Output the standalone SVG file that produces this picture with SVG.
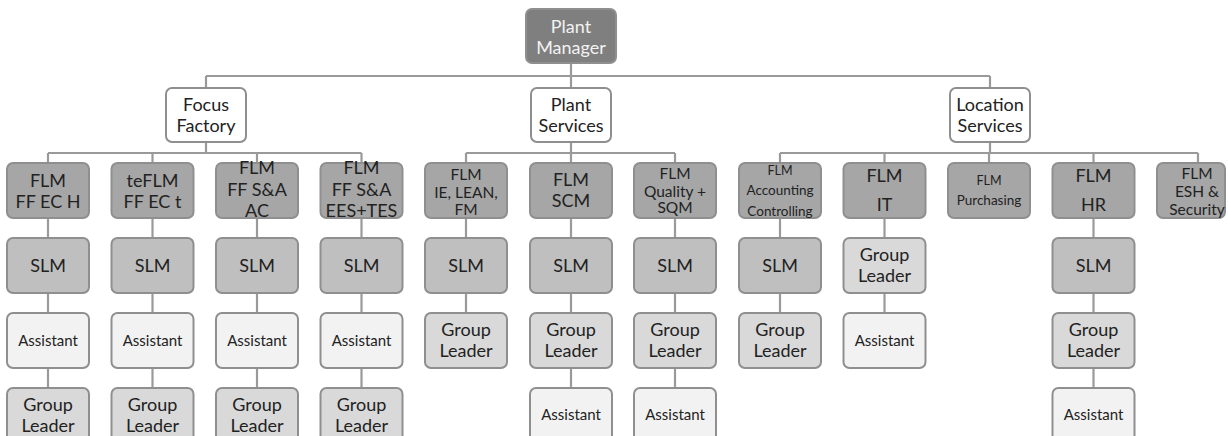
<svg xmlns="http://www.w3.org/2000/svg" width="1228" height="436" viewBox="0 0 1228 436">
<style>
.n rect{stroke:#8f8f8f;stroke-width:2}
.pm{fill:#7f7f7f}
.l1{fill:#ffffff}
.flm{fill:#a6a6a6}
.slm{fill:#bfbfbf}
.gl{fill:#d9d9d9}
.as{fill:#f2f2f2}
text{font-family:Lato,"Liberation Sans",sans-serif;font-size:18px;fill:#222;text-anchor:middle}
.w{fill:#f2f2f2}
.s15{font-size:15.5px}
.s14{font-size:15px}
.s13{font-size:13.5px}
.s12{font-size:12.5px}
#connectors path{stroke:#9a9a9a;stroke-width:2.2;fill:none}
</style>
<g id="connectors">
<path d="M571 63V76M206 76H990M206 76V88M571 76V88M990 76V88"/>
<path d="M206 142V153M571 142V153M990 142V153"/>
<path d="M48 153H361.5M466 153H675M780 153H1198"/>
<path d="M48 153V163M152.5 153V163M257 153V163M361.5 153V163M466 153V163M571 153V163M675 153V163M780 153V163M884.5 153V163M989 153V163M1093.5 153V163M1198 153V163"/>
<path d="M48 218V388M152.5 218V388M257 218V388M361.5 218V388"/>
<path d="M466 218V313M571 218V388M675 218V388M780 218V313M884.5 218V313M1093.5 218V388"/>
</g>
<g class="n" id="plant-manager"><rect class="pm" x="526" y="9" width="90" height="54" rx="6"/><text class="w" x="571" y="33">Plant</text><text class="w" x="571" y="54">Manager</text></g>
<g class="n" id="focus-factory"><rect class="l1" x="166" y="88" width="80" height="54" rx="6"/><text x="206" y="111">Focus</text><text x="206" y="132">Factory</text></g>
<g class="n" id="plant-services"><rect class="l1" x="531" y="88" width="80" height="54" rx="6"/><text x="571" y="111">Plant</text><text x="571" y="132">Services</text></g>
<g class="n" id="location-services"><rect class="l1" x="950" y="88" width="80" height="54" rx="6"/><text x="990" y="111">Location</text><text x="990" y="132">Services</text></g>

<g class="n" id="c0-flm"><rect class="flm" x="7" y="163" width="82" height="55" rx="6"/><text x="48" y="187">FLM</text><text x="48" y="208">FF EC H</text></g>
<g class="n" id="c0-slm"><rect class="slm" x="7" y="238" width="82" height="55" rx="6"/><text x="48" y="272">SLM</text></g>
<g class="n" id="c0-as"><rect class="as" x="7" y="313" width="82" height="55" rx="6"/><text class="s14" x="48" y="346">Assistant</text></g>
<g class="n" id="c0-gl"><rect class="gl" x="7" y="388" width="82" height="55" rx="6"/><text x="48" y="411">Group</text><text x="48" y="432">Leader</text></g>

<g class="n" id="c1-flm"><rect class="flm" x="111.5" y="163" width="82" height="55" rx="6"/><text x="152.5" y="187">teFLM</text><text x="152.5" y="208">FF EC t</text></g>
<g class="n" id="c1-slm"><rect class="slm" x="111.5" y="238" width="82" height="55" rx="6"/><text x="152.5" y="272">SLM</text></g>
<g class="n" id="c1-as"><rect class="as" x="111.5" y="313" width="82" height="55" rx="6"/><text class="s14" x="152.5" y="346">Assistant</text></g>
<g class="n" id="c1-gl"><rect class="gl" x="111.5" y="388" width="82" height="55" rx="6"/><text x="152.5" y="411">Group</text><text x="152.5" y="432">Leader</text></g>

<g class="n" id="c2-flm"><rect class="flm" x="216" y="163" width="82" height="55" rx="6"/><text x="257" y="174">FLM</text><text x="257" y="196">FF S&amp;A</text><text x="257" y="217">AC</text></g>
<g class="n" id="c2-slm"><rect class="slm" x="216" y="238" width="82" height="55" rx="6"/><text x="257" y="272">SLM</text></g>
<g class="n" id="c2-as"><rect class="as" x="216" y="313" width="82" height="55" rx="6"/><text class="s14" x="257" y="346">Assistant</text></g>
<g class="n" id="c2-gl"><rect class="gl" x="216" y="388" width="82" height="55" rx="6"/><text x="257" y="411">Group</text><text x="257" y="432">Leader</text></g>

<g class="n" id="c3-flm"><rect class="flm" x="320.5" y="163" width="82" height="55" rx="6"/><text x="361.5" y="174">FLM</text><text x="361.5" y="196">FF S&amp;A</text><text x="361.5" y="217">EES+TES</text></g>
<g class="n" id="c3-slm"><rect class="slm" x="320.5" y="238" width="82" height="55" rx="6"/><text x="361.5" y="272">SLM</text></g>
<g class="n" id="c3-as"><rect class="as" x="320.5" y="313" width="82" height="55" rx="6"/><text class="s14" x="361.5" y="346">Assistant</text></g>
<g class="n" id="c3-gl"><rect class="gl" x="320.5" y="388" width="82" height="55" rx="6"/><text x="361.5" y="411">Group</text><text x="361.5" y="432">Leader</text></g>

<g class="n" id="c4-flm"><rect class="flm" x="425" y="163" width="82" height="55" rx="6"/><text class="s15" x="466" y="179.5">FLM</text><text class="s15" x="466" y="198">IE, LEAN,</text><text class="s15" x="466" y="214.5">FM</text></g>
<g class="n" id="c4-slm"><rect class="slm" x="425" y="238" width="82" height="55" rx="6"/><text x="466" y="272">SLM</text></g>
<g class="n" id="c4-gl"><rect class="gl" x="425" y="313" width="82" height="55" rx="6"/><text x="466" y="336">Group</text><text x="466" y="357">Leader</text></g>

<g class="n" id="c5-flm"><rect class="flm" x="530" y="163" width="82" height="55" rx="6"/><text x="571" y="185.5">FLM</text><text x="571" y="207">SCM</text></g>
<g class="n" id="c5-slm"><rect class="slm" x="530" y="238" width="82" height="55" rx="6"/><text x="571" y="272">SLM</text></g>
<g class="n" id="c5-gl"><rect class="gl" x="530" y="313" width="82" height="55" rx="6"/><text x="571" y="336">Group</text><text x="571" y="357">Leader</text></g>
<g class="n" id="c5-as"><rect class="as" x="530" y="388" width="82" height="55" rx="6"/><text class="s14" x="571" y="420">Assistant</text></g>

<g class="n" id="c6-flm"><rect class="flm" x="634" y="163" width="82" height="55" rx="6"/><text class="s15" x="675" y="179">FLM</text><text class="s15" x="675" y="197">Quality +</text><text class="s15" x="675" y="213">SQM</text></g>
<g class="n" id="c6-slm"><rect class="slm" x="634" y="238" width="82" height="55" rx="6"/><text x="675" y="272">SLM</text></g>
<g class="n" id="c6-gl"><rect class="gl" x="634" y="313" width="82" height="55" rx="6"/><text x="675" y="336">Group</text><text x="675" y="357">Leader</text></g>
<g class="n" id="c6-as"><rect class="as" x="634" y="388" width="82" height="55" rx="6"/><text class="s14" x="675" y="420">Assistant</text></g>

<g class="n" id="c7-flm"><rect class="flm" x="739" y="163" width="82" height="55" rx="6"/><text class="s12" x="780" y="174.5">FLM</text><text class="s13" x="780" y="195">Accounting</text><text class="s13" x="780" y="216">Controlling</text></g>
<g class="n" id="c7-slm"><rect class="slm" x="739" y="238" width="82" height="55" rx="6"/><text x="780" y="272">SLM</text></g>
<g class="n" id="c7-gl"><rect class="gl" x="739" y="313" width="82" height="55" rx="6"/><text x="780" y="336">Group</text><text x="780" y="357">Leader</text></g>

<g class="n" id="c8-flm"><rect class="flm" x="843.5" y="163" width="82" height="55" rx="6"/><text x="884.5" y="182">FLM</text><text x="884.5" y="211">IT</text></g>
<g class="n" id="c8-gl"><rect class="gl" x="843.5" y="238" width="82" height="55" rx="6"/><text x="884.5" y="261">Group</text><text x="884.5" y="282">Leader</text></g>
<g class="n" id="c8-as"><rect class="as" x="843.5" y="313" width="82" height="55" rx="6"/><text class="s14" x="884.5" y="346">Assistant</text></g>

<g class="n" id="c9-flm"><rect class="flm" x="948" y="163" width="82" height="55" rx="6"/><text class="s12" x="989" y="185">FLM</text><text class="s13" x="989" y="205">Purchasing</text></g>

<g class="n" id="c10-flm"><rect class="flm" x="1052.5" y="163" width="82" height="55" rx="6"/><text x="1093.5" y="182">FLM</text><text x="1093.5" y="211">HR</text></g>
<g class="n" id="c10-slm"><rect class="slm" x="1052.5" y="238" width="82" height="55" rx="6"/><text x="1093.5" y="272">SLM</text></g>
<g class="n" id="c10-gl"><rect class="gl" x="1052.5" y="313" width="82" height="55" rx="6"/><text x="1093.5" y="336">Group</text><text x="1093.5" y="357">Leader</text></g>
<g class="n" id="c10-as"><rect class="as" x="1052.5" y="388" width="82" height="55" rx="6"/><text class="s14" x="1093.5" y="420">Assistant</text></g>

<g class="n" id="c11-flm"><rect class="flm" x="1157" y="163" width="68" height="55" rx="6"/><text class="s15" x="1197" y="179">FLM</text><text class="s15" x="1197" y="197">ESH &amp;</text><text class="s15" x="1197" y="215">Security</text></g>
</svg>
